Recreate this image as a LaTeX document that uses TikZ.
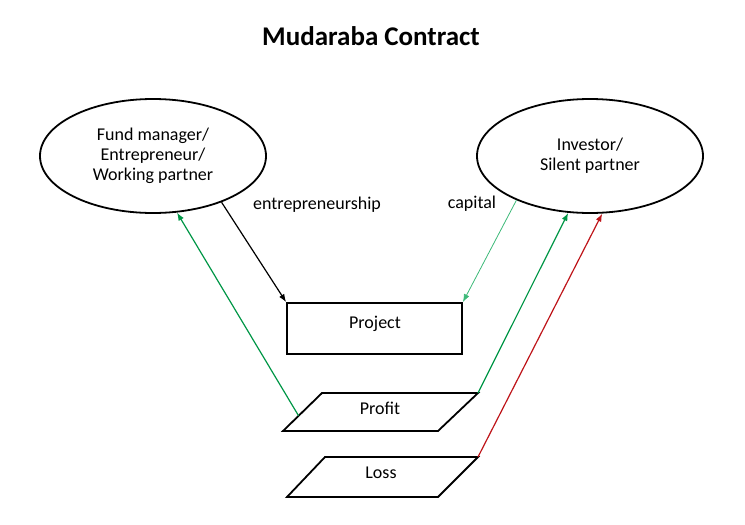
\documentclass[tikz,border=0pt]{standalone}
\usepackage{fontspec}
\setmainfont{Carlito}
\usetikzlibrary{shapes.geometric,arrows.meta,calc}
\definecolor{pgreen}{RGB}{0,150,70}
\definecolor{cgreen}{RGB}{60,185,120}
\definecolor{lred}{RGB}{190,20,25}
\begin{document}
\begin{tikzpicture}[x=1pt,y=-1pt,
  party/.style={draw,ellipse,line width=1.8pt,minimum width=226pt,minimum height=114pt,
    align=center,font=\fontsize{18}{20}\selectfont,inner sep=0pt},
  lbl/.style={font=\fontsize{18}{20}\selectfont,inner sep=0pt},
  box/.style={draw,line width=1.8pt},
  arr/.style={line width=1.2pt,-{Latex[length=8pt,width=6pt]}}]
\useasboundingbox (0,0) rectangle (745,525);
\node[font=\fontsize{27}{30}\selectfont\bfseries] (title) at (371,36) {Mudaraba Contract};
\node[party] (fund) at (153,156) {Fund manager/\\Entrepreneur/\\Working partner};
\node[party] (inv) at (590,156) {Investor/\\Silent partner};
\node[lbl] (ent) at (317,205) {entrepreneurship};
\node[lbl] (cap) at (472,204) {capital};
\node[box,minimum width=175pt,minimum height=51pt] (project) at (374.5,328.5) {};
\node[lbl] (projtext) at (375,324) {Project};
% Profit parallelogram
\coordinate (profitTL) at (322,393);
\coordinate (profitTR) at (478,393);
\coordinate (profitBR) at (438,431);
\coordinate (profitBL) at (283,431);
\draw[box] (profitTL) -- (profitTR) -- (profitBR) -- (profitBL) -- cycle;
\node[lbl] (profit) at (380,408) {Profit};
% Loss parallelogram
\coordinate (lossTL) at (325,457);
\coordinate (lossTR) at (478,457);
\coordinate (lossBR) at (438,497);
\coordinate (lossBL) at (287,497);
\draw[box] (lossTL) -- (lossTR) -- (lossBR) -- (lossBL) -- cycle;
\node[lbl] (loss) at (381,473) {Loss};
\coordinate (profitL) at ($(profitBL)!0.4!(profitTL)$);
% connectors
\draw[arr,black] (fund.-34) -- (project.north west);
\draw[arr,cgreen,line width=0.8pt] (inv.-149) -- (project.north east);
\draw[arr,pgreen] (profitL) -- (fund.-67);
\draw[arr,pgreen] (profitTR) -- (inv.-111);
\draw[arr,lred] (lossTR) -- (inv.-78);
\end{tikzpicture}
\end{document}
